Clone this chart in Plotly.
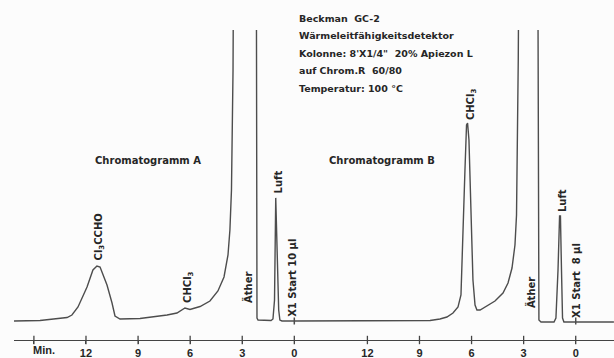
import plotly.graph_objects as go

# Gas chromatograms of the same sample, two injections recorded side by side.
# Retention time in minutes (0 = injection), detector signal in % of full scale.
# None marks where the pen ran off the top of the chart (signal > 100 %).
time_a = [16.15, 14.65, 13.09, 12.81, 12.46, 11.94, 11.60, 11.37, 11.19, 11.02,
          10.79, 10.50, 10.33, 10.04, 8.89, 7.33, 6.76, 6.30, 6.01, 5.43,
          4.86, 4.40, 4.05, 3.82, 3.71, 3.62, 3.56, 3.53, 3.52, None,
          2.18, 2.15, 2.09, 1.34, 1.23, 1.14, 1.07, 1.00, 0.90, 0.83, 0.71, 0.0]
signal_a = [0.0, 0.17, 1.2, 2.06, 4.81, 11.68, 17.53, 18.9, 18.56, 16.15,
            12.37, 6.19, 1.72, 0.69, 0.86, 2.06, 2.75, 4.47, 3.95, 4.98,
            6.87, 10.31, 15.12, 22.68, 31.27, 45.02, 65.64, 86.25, 100, None,
            100, 1.03, 0.34, 0.17, 0.69, 7.2, 42.3, 27.8, 3.78, 0.34, 0.0, 0.0]

time_b = [16.23, 13.00, 10.12, 8.39, 7.82, 7.42, 7.07, 6.78, 6.61, 6.49,
          6.38, 6.29, 6.23, 6.15, 6.03, 5.92, 5.80, 5.69, 5.51, 5.23,
          4.65, 4.19, 3.90, 3.67, 3.50, 3.41, 3.37, 3.34, 3.31, 3.30, None,
          2.17, 2.16, 2.12, 2.00, 1.25, 1.14, 1.02, 0.93, 0.88, 0.82,
          0.76, 0.68, 0.0, -2.2]
signal_b = [0.0, 0.0, 0.0, 0.17, 0.69, 1.37, 2.75, 4.81, 8.93, 27.8,
            51.9, 67.4, 68.0, 62.2, 38.1, 14.1, 5.5, 3.78, 3.78, 4.81,
            6.87, 9.62, 13.06, 18.2, 26.1, 36.4, 51.9, 69.1, 89.7, 100, None,
            100, 7.2, 0.34, -0.34, -0.34, 1.03, 17.5, 36.1, 36.1, 17.5,
            1.03, -0.34, -0.34, -0.34]

# Minute ticks printed under each chromatogram
tick_minutes = [12, 9, 6, 3, 0]

# Peak labels: (chromatogram, retention time, label height in %, text)
peak_labels = [
    ("A", 11.22, 28.9, "Cl<sub>3</sub>CCHO"),
    ("A", 6.07, 11.7, "CHCl<sub>3</sub>"),
    ("A", 2.67, 11.7, "Äther"),
    ("A", 0.91, 47.8, "Luft"),
    ("A", 0.08, 14.8, "X1 Start 10 µl"),
    ("B", 6.03, 74.2, "CHCl<sub>3</sub>"),
    ("B", 2.63, 9.6, "Äther"),
    ("B", 0.79, 41.2, "Luft"),
    ("B", -0.07, 14.1, "X1 Start  8 µl"),
]

header_lines = [
    "Beckman  GC-2",
    "Wärmeleitfähigkeitsdetektor",
    "Kolonne: 8'X1/4\"  20% Apiezon L",
    "auf Chrom.R  60/80",
    "Temperatur: 100 °C",
]

# Both strips share one paper axis; time runs right to left.
ORIGIN = {"A": 15.0, "B": 31.21}


def pos(run, t):
    return None if t is None else ORIGIN[run] - t


ink = "#4d4d4d"
text_col = "#262626"
label_font = dict(family="DejaVu Sans", size=10, color=text_col, weight="bold")
header_font = dict(family="DejaVu Sans", size=9.5, color=text_col, weight="bold")

fig = go.Figure()
for run, ts, ss in (("A", time_a, signal_a), ("B", time_b, signal_b)):
    fig.add_trace(go.Scatter(
        x=[pos(run, t) for t in ts], y=ss, mode="lines",
        line=dict(color=ink, width=1.4), connectgaps=False,
        hoverinfo="skip", showlegend=False))

# injection marks on the baseline
fig.add_trace(go.Scatter(
    x=[pos("A", 0), pos("B", 0)], y=[0, 0], mode="markers",
    marker=dict(symbol="line-ns-open", size=5, color=ink,
                line=dict(color=ink, width=1.5)),
    hoverinfo="skip", showlegend=False))

tickvals = [0.0] + [pos("A", m) for m in tick_minutes] + [pos("B", m) for m in tick_minutes]
ticktext = [""] + [str(m) for m in tick_minutes] * 2

# crossing tick marks on the time axis
fig.add_trace(go.Scatter(
    x=tickvals, y=[-6.53] * len(tickvals), mode="markers", cliponaxis=False,
    marker=dict(symbol="line-ns-open", size=6, color="#444",
                line=dict(color="#444", width=1.3)),
    hoverinfo="skip", showlegend=False))

annotations = []
for run, t, s, txt in peak_labels:
    annotations.append(dict(x=pos(run, t), y=s, xref="x", yref="y", text=txt,
                            textangle=-90, showarrow=False, font=label_font,
                            xanchor="center", yanchor="middle"))

annotations.append(dict(x=0.0, y=-0.03, xref="x", yref="paper", text="Min.",
                        showarrow=False, xanchor="left", yanchor="middle", xshift=-3,
                        font=dict(family="Liberation Sans", size=11, color=text_col, weight="bold")))

for x, txt in ((0.223, "Chromatogramm A"), (0.6125, "Chromatogramm B")):
    annotations.append(dict(x=x, y=0.529, xref="paper", yref="paper", text=txt,
                            showarrow=False, xanchor="center", yanchor="middle",
                            font=label_font))

for i, line in enumerate(header_lines):
    annotations.append(dict(x=0.4717, y=0.947 - i * 0.0515, xref="paper", yref="paper",
                            text=line, showarrow=False, xanchor="left", yanchor="middle",
                            font=header_font))

fig.update_layout(
    width=614, height=358,
    margin=dict(l=14, r=0, t=0, b=18),
    paper_bgcolor="#fcfcfc", plot_bgcolor="#fcfcfc",
    annotations=annotations,
    xaxis=dict(range=[-1.147, 33.415], showgrid=False, zeroline=False,
               showline=True, linecolor="#444", linewidth=1.3,
               ticks="outside", ticklen=3, tickcolor="#444", tickwidth=1.2,
               tickvals=tickvals, ticktext=ticktext,
               tickfont=dict(family="Liberation Sans", size=11, color=text_col, weight="bold")),
    yaxis=dict(range=[-6.53, 110.3], visible=False, showgrid=False, zeroline=False),
)

fig.write_html("out.html")
